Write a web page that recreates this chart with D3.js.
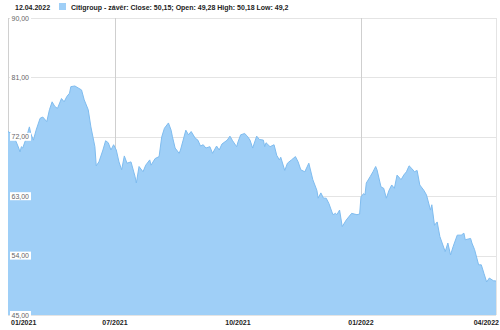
<!DOCTYPE html>
<html>
<head>
<meta charset="utf-8">
<script src="https://cdn.jsdelivr.net/npm/d3@7"></script>
<style>
  body { margin: 0; background: #fff; }
  text { font-family: "Liberation Sans", Arial, sans-serif; }
</style>
</head>
<body>
<div id="chart"></div>
<script>
var width = 500,
    height = 330;
var margin = { top: 18, right: 4, bottom: 15, left: 8 };

// Citigroup close, 12.04.2021 - 12.04.2022
var dates = [
  "2021-04-12","2021-04-16","2021-04-18","2021-04-20","2021-04-21","2021-04-22","2021-04-23","2021-04-26",
  "2021-04-27","2021-04-28","2021-04-29","2021-05-01","2021-05-03","2021-05-06","2021-05-08","2021-05-11",
  "2021-05-13","2021-05-15","2021-05-17","2021-05-19","2021-05-22","2021-05-24","2021-05-26","2021-05-28",
  "2021-05-29","2021-06-01","2021-06-06","2021-06-08","2021-06-11","2021-06-13","2021-06-16","2021-06-17",
  "2021-06-19","2021-06-22","2021-06-24","2021-06-26","2021-06-28","2021-06-30","2021-07-02","2021-07-04",
  "2021-07-06","2021-07-08","2021-07-10","2021-07-13","2021-07-16","2021-07-17","2021-07-19","2021-07-22",
  "2021-07-24","2021-07-27","2021-07-28","2021-07-31","2021-08-03","2021-08-05","2021-08-07","2021-08-10",
  "2021-08-12","2021-08-13","2021-08-15","2021-08-18","2021-08-19","2021-08-21","2021-08-23","2021-08-25",
  "2021-08-27","2021-08-30","2021-09-01","2021-09-03","2021-09-05","2021-09-07","2021-09-10","2021-09-12",
  "2021-09-15","2021-09-17","2021-09-19","2021-09-23","2021-09-25","2021-09-27","2021-09-30","2021-10-01",
  "2021-10-03","2021-10-06","2021-10-08","2021-10-10","2021-10-12","2021-10-15","2021-10-17","2021-10-20",
  "2021-10-21","2021-10-22","2021-10-25","2021-10-28","2021-10-30","2021-11-01","2021-11-02","2021-11-05",
  "2021-11-07","2021-11-10","2021-11-13","2021-11-15","2021-11-17","2021-11-20","2021-11-23","2021-11-26",
  "2021-11-29","2021-11-30","2021-12-02","2021-12-04","2021-12-06","2021-12-08","2021-12-11","2021-12-13",
  "2021-12-14","2021-12-16","2021-12-18","2021-12-21","2021-12-25","2021-12-29","2021-12-31","2022-01-01",
  "2022-01-03","2022-01-04","2022-01-05","2022-01-08","2022-01-10","2022-01-12","2022-01-13","2022-01-16",
  "2022-01-18","2022-01-20","2022-01-22","2022-01-24","2022-01-26","2022-01-28","2022-01-31","2022-02-02",
  "2022-02-04","2022-02-06","2022-02-08","2022-02-10","2022-02-12","2022-02-14","2022-02-17","2022-02-19",
  "2022-02-22","2022-02-23","2022-02-25","2022-02-27","2022-03-01","2022-03-05","2022-03-07","2022-03-09",
  "2022-03-11","2022-03-14","2022-03-17","2022-03-19","2022-03-20","2022-03-24","2022-03-25","2022-03-27",
  "2022-03-30","2022-04-01","2022-04-03","2022-04-05","2022-04-07","2022-04-10","2022-04-12"
];
var closes = [
  72.8,72.3,71.3,70.3,69.7,70.5,70.3,72.0,
  72.8,73.5,72.5,71.5,73.0,74.8,75.0,74.3,
  76.1,77.3,76.6,76.3,77.8,77.3,78.1,78.6,
  79.6,79.7,79.1,77.6,76.1,73.5,70.5,67.6,
  68.2,70.0,71.4,71.1,70.0,70.8,70.0,68.2,
  67.0,69.1,68.0,68.2,66.0,65.0,67.5,66.7,
  67.7,68.5,67.7,68.7,69.0,72.0,73.3,74.1,
  73.0,72.0,70.3,69.5,70.0,71.5,73.0,72.3,
  72.8,71.8,71.5,70.6,70.8,70.3,70.5,69.5,
  70.6,70.0,70.9,71.5,72.1,71.4,70.5,71.2,
  72.3,72.5,72.1,71.5,70.3,72.1,71.6,71.5,
  70.5,71.1,70.5,70.8,69.2,68.5,68.9,66.9,
  68.0,68.5,69.0,68.2,67.0,66.7,68.0,65.5,
  63.9,62.7,63.5,62.7,62.7,61.9,60.2,60.4,
  60.2,60.9,58.4,59.4,60.4,60.2,60.3,62.9,
  63.4,63.2,65.0,66.0,66.7,67.5,67.0,64.4,
  64.2,62.7,63.9,64.7,64.2,66.2,65.5,66.2,
  66.7,67.6,67.2,66.7,66.9,64.7,63.9,63.2,
  60.9,61.7,58.6,59.1,56.9,54.6,55.9,54.1,
  55.4,57.1,57.1,57.4,56.4,56.6,55.9,54.9,
  52.6,52.6,51.3,50.0,50.6,50.2,50.15
];

var yTicks = [45, 54, 63, 72, 81, 90];
var xTickDates = ["2021-07-01", "2021-10-01", "2022-01-01"];
var xTickLabels = ["07/2021", "10/2021", "01/2022"];
var xGridDates = ["2021-07-01", "2022-01-01"];
var firstLabel = "01/2021",
    lastLabel = "04/2022";

var headerDate = "12.04.2022";
var legendText = "Citigroup - závěr: Close: 50,15; Open: 49,28 High: 50,18 Low: 49,2";

var parse = d3.timeParse("%Y-%m-%d");
var data = dates.map(function(d, i) { return { date: parse(d), close: closes[i] }; });

var svg = d3.select("#chart").append("svg")
    .attr("width", width)
    .attr("height", height);

var x = d3.scaleTime()
    .domain([parse("2021-04-12"), parse("2022-04-12")])
    .range([margin.left, width - margin.right]);

var y = d3.scaleLinear()
    .domain([45, 90])
    .range([height - margin.bottom, margin.top]);

// header
svg.append("text")
    .attr("x", 15)
    .attr("y", 9.5)
    .style("font-size", "7px")
    .style("font-weight", "bold")
    .style("fill", "#222")
    .text(headerDate);

svg.append("rect")
    .attr("x", 59)
    .attr("y", 3)
    .attr("width", 7)
    .attr("height", 7)
    .style("fill", "#9fcff7");

svg.append("text")
    .attr("x", 71)
    .attr("y", 9.5)
    .style("font-size", "7px")
    .style("font-weight", "bold")
    .style("fill", "#222")
    .text(legendText);

// horizontal grid
svg.selectAll(".hgrid")
    .data(yTicks)
    .enter().append("line")
    .attr("class", "hgrid")
    .attr("x1", margin.left)
    .attr("x2", width - margin.right)
    .attr("y1", function(d) { return Math.round(y(d)) + 0.5; })
    .attr("y2", function(d) { return Math.round(y(d)) + 0.5; })
    .style("stroke", "#e4e4e4");

// vertical grid
svg.selectAll(".vgrid")
    .data(xGridDates)
    .enter().append("line")
    .attr("class", "vgrid")
    .attr("x1", function(d) { return Math.round(x(parse(d))) + 0.5; })
    .attr("x2", function(d) { return Math.round(x(parse(d))) + 0.5; })
    .attr("y1", margin.top)
    .attr("y2", height - margin.bottom)
    .style("stroke", "#cfcfcf");

// border lines
svg.append("line")
    .attr("x1", margin.left + 0.5).attr("x2", margin.left + 0.5)
    .attr("y1", margin.top).attr("y2", height - margin.bottom)
    .style("stroke", "#d0d0d0");
svg.append("line")
    .attr("x1", width - margin.right + 0.5).attr("x2", width - margin.right + 0.5)
    .attr("y1", margin.top).attr("y2", height - margin.bottom)
    .style("stroke", "#e4e4e4");

var area = d3.area()
    .x(function(d) { return x(d.date); })
    .y0(y(45))
    .y1(function(d) { return y(d.close); });

var line = d3.line()
    .x(function(d) { return x(d.date); })
    .y(function(d) { return y(d.close); });

svg.append("path")
    .datum(data)
    .attr("d", area)
    .style("fill", "#9fcff7");

svg.append("path")
    .datum(data)
    .attr("d", line)
    .style("fill", "none")
    .style("stroke", "#7fbcef")
    .style("stroke-width", 1);

// y labels with white boxes
var fmt = function(v) { return d3.format(".2f")(v).replace(".", ","); };

var yLab = svg.selectAll(".ylab")
    .data(yTicks)
    .enter().append("g")
    .attr("class", "ylab")
    .attr("transform", function(d) { return "translate(10," + y(d) + ")"; });

yLab.append("rect")
    .attr("x", 0)
    .attr("y", -4)
    .attr("width", 21)
    .attr("height", 8)
    .style("fill", "#fff");

yLab.append("text")
    .attr("x", 1.5)
    .attr("y", 2.5)
    .style("font-size", "7px")
    .style("fill", "#666")
    .text(function(d) { return fmt(d); });

// x labels
var xLabY = 325;
svg.selectAll(".xlab")
    .data(xTickDates)
    .enter().append("text")
    .attr("class", "xlab")
    .attr("x", function(d) { return x(parse(d)); })
    .attr("y", xLabY)
    .attr("text-anchor", "middle")
    .style("font-size", "7px")
    .style("font-weight", "bold")
    .style("fill", "#222")
    .text(function(d, i) { return xTickLabels[i]; });

svg.append("text")
    .attr("x", 11)
    .attr("y", xLabY)
    .style("font-size", "7px")
    .style("font-weight", "bold")
    .style("fill", "#222")
    .text(firstLabel);

svg.append("text")
    .attr("x", 499)
    .attr("y", xLabY)
    .attr("text-anchor", "end")
    .style("font-size", "7px")
    .style("font-weight", "bold")
    .style("fill", "#222")
    .text(lastLabel);
</script>
</body>
</html>
